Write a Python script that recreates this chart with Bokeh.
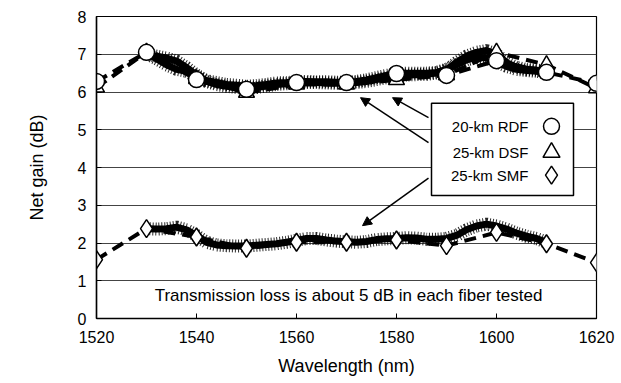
from bokeh.plotting import figure
from bokeh.models import ColumnDataSource, BoxAnnotation, Label, Arrow, NormalHead, FixedTicker
from bokeh.embed import file_html
from bokeh.resources import INLINE

# ---- data ----
pt_wl = [1520, 1530, 1540, 1550, 1560, 1570, 1580, 1590, 1600, 1610, 1620]
rdf_pts = [6.28, 7.05, 6.33, 6.07, 6.25, 6.25, 6.49, 6.44, 6.83, 6.52, 6.23]
dsf_pts = [6.12, 7.05, 6.35, 5.98, 6.20, 6.20, 6.32, 6.45, 7.05, 6.72, 6.10]
smf_pts = [1.56, 2.38, 2.16, 1.86, 2.02, 2.02, 2.08, 1.93, 2.28, 1.98, 1.48]

spec_wl = [1530, 1532, 1534, 1536, 1538, 1540, 1542, 1544, 1546, 1548, 1550,
           1552, 1554, 1556, 1558, 1560, 1562, 1564, 1566, 1568, 1570,
           1572, 1574, 1576, 1578, 1580, 1582, 1584, 1586, 1588, 1590,
           1592, 1594, 1596, 1598, 1600, 1602, 1604, 1606, 1608, 1610]
rdf_spec = [7.00, 6.95, 6.90, 6.82, 6.65, 6.45, 6.30, 6.25, 6.20, 6.18, 6.15,
            6.17, 6.20, 6.24, 6.25, 6.27, 6.28, 6.27, 6.27, 6.26, 6.26,
            6.28, 6.32, 6.38, 6.44, 6.48, 6.50, 6.50, 6.50, 6.52, 6.60,
            6.72, 6.85, 6.92, 6.90, 6.80, 6.68, 6.60, 6.57, 6.55, 6.50]
dsf_spec = [7.02, 6.88, 6.72, 6.60, 6.55, 6.42, 6.28, 6.20, 6.15, 6.12, 6.10,
            6.12, 6.16, 6.20, 6.22, 6.24, 6.25, 6.25, 6.24, 6.23, 6.23,
            6.25, 6.28, 6.33, 6.38, 6.42, 6.45, 6.46, 6.47, 6.50, 6.58,
            6.78, 6.95, 7.05, 7.10, 7.00, 6.78, 6.65, 6.60, 6.58, 6.55]
smf_spec = [2.38, 2.37, 2.38, 2.42, 2.35, 2.20, 2.02, 1.95, 1.93, 1.92, 1.92,
            1.94, 1.96, 1.98, 2.02, 2.07, 2.12, 2.12, 2.08, 2.05, 2.03,
            2.02, 2.04, 2.09, 2.11, 2.12, 2.14, 2.13, 2.10, 2.10, 2.12,
            2.20, 2.35, 2.45, 2.50, 2.45, 2.37, 2.26, 2.18, 2.12, 2.02]

x_ticks = [1520, 1540, 1560, 1580, 1600, 1620]
y_ticks = [0, 1, 2, 3, 4, 5, 6, 7, 8]
legend_labels = ["20-km RDF", "25-km DSF", "25-km SMF"]
note_text = "Transmission loss is about 5 dB in each fiber tested"

FONT = "Liberation Sans"

p = figure(width=621, height=383, x_range=(1520, 1620), y_range=(0, 8),
           output_backend="svg", toolbar_location=None,
           min_border_left=96, min_border_right=25, min_border_top=16,
           min_border_bottom=65)
p.background_fill_color = "white"
p.border_fill_color = "white"
p.outline_line_color = "black"
p.outline_line_width = 1.2

p.xgrid.visible = False
p.ygrid.ticker = FixedTicker(ticks=y_ticks)
p.ygrid.grid_line_color = "#444444"
p.ygrid.grid_line_width = 1

p.xaxis.ticker = FixedTicker(ticks=x_ticks)
p.yaxis.ticker = FixedTicker(ticks=y_ticks)
for ax in (p.xaxis, p.yaxis):
    ax.axis_line_color = "black"
    ax.axis_line_width = 1.5
    ax.major_tick_in = 5
    ax.major_tick_out = 0
    ax.minor_tick_line_color = None
    ax.major_tick_line_color = "black"
    ax.major_label_text_font = FONT
    ax.major_label_text_font_size = "16px"
    ax.major_label_text_color = "black"
    ax.axis_label_text_font = FONT
    ax.axis_label_text_font_size = "18px"
    ax.axis_label_text_font_style = "normal"
    ax.axis_label_text_color = "black"
p.xaxis.axis_label = "Wavelength (nm)"
p.yaxis.axis_label = "Net gain (dB)"
p.xaxis.major_label_standoff = 12
p.yaxis.major_label_standoff = 10
p.xaxis.axis_label_standoff = 10
p.yaxis.axis_label_standoff = 28

# dashed connecting lines through the measured points
pts = ColumnDataSource(dict(x=pt_wl, rdf=rdf_pts, dsf=dsf_pts, smf=smf_pts))
for col in ("dsf", "rdf", "smf"):
    p.line("x", col, source=pts, line_color="black", line_width=4, line_dash="12 7")

# measured spectra: solid core plus fuzzy hatch
spec = ColumnDataSource(dict(x=spec_wl, rdf=rdf_spec, dsf=dsf_spec, smf=smf_spec))
for col in ("dsf", "rdf", "smf"):
    p.line("x", col, source=spec, line_color="black", line_width=7)
    p.line("x", col, source=spec, line_color="black", line_width=13,
           line_dash="1 2", line_alpha=0.85)

# markers
p.scatter("x", "dsf", source=pts, marker="triangle", size=16,
          fill_color="white", line_color="black", line_width=1.5)
p.scatter("x", "rdf", source=pts, marker="circle", size=16,
          fill_color="white", line_color="black", line_width=1.5)
p.scatter("x", "smf", source=pts, marker="diamond", size=18,
          fill_color="white", line_color="black", line_width=1.5)

# arrows
head = dict(size=9, fill_color="black", line_color="black")
for xs, ys, xe, ye in [(1586.4, 5.32, 1579.2, 5.85),
                       (1586.4, 4.66, 1572.8, 5.85),
                       (1586.4, 3.72, 1573.2, 2.46)]:
    p.add_layout(Arrow(end=NormalHead(**head), x_start=xs, y_start=ys,
                       x_end=xe, y_end=ye, line_width=1.5, line_color="black"))

# legend box
lg_left, lg_right, lg_top, lg_bottom = 1587.0, 1615.4, 5.70, 3.26
p.add_layout(BoxAnnotation(left=lg_left, right=lg_right, top=lg_top, bottom=lg_bottom,
                           fill_color="white", fill_alpha=1.0,
                           line_color="black", line_alpha=1.0, line_width=1.5))
row_y = [5.09, 4.40, 3.80]
for lab, yy in zip(legend_labels, row_y):
    p.add_layout(Label(x=1606.4, y=yy, text=lab, text_align="right",
                       text_baseline="middle", text_font=FONT,
                       text_font_size="15px", text_color="black"))
leg_src = ColumnDataSource(dict(x=[1611.0] * 3, y=row_y,
                                m=["circle", "triangle", "diamond"],
                                s=[16, 17, 18]))
r = p.scatter("x", "y", source=leg_src, marker="m", size="s",
              fill_color="white", line_color="black", line_width=1.5)
r.level = "overlay"

# note
p.add_layout(Label(x=1570.4, y=0.6, text=note_text, text_align="center",
                   text_baseline="middle", text_font=FONT,
                   text_font_size="17px", text_color="black"))

open("out.html", "w").write(file_html(p, INLINE))
